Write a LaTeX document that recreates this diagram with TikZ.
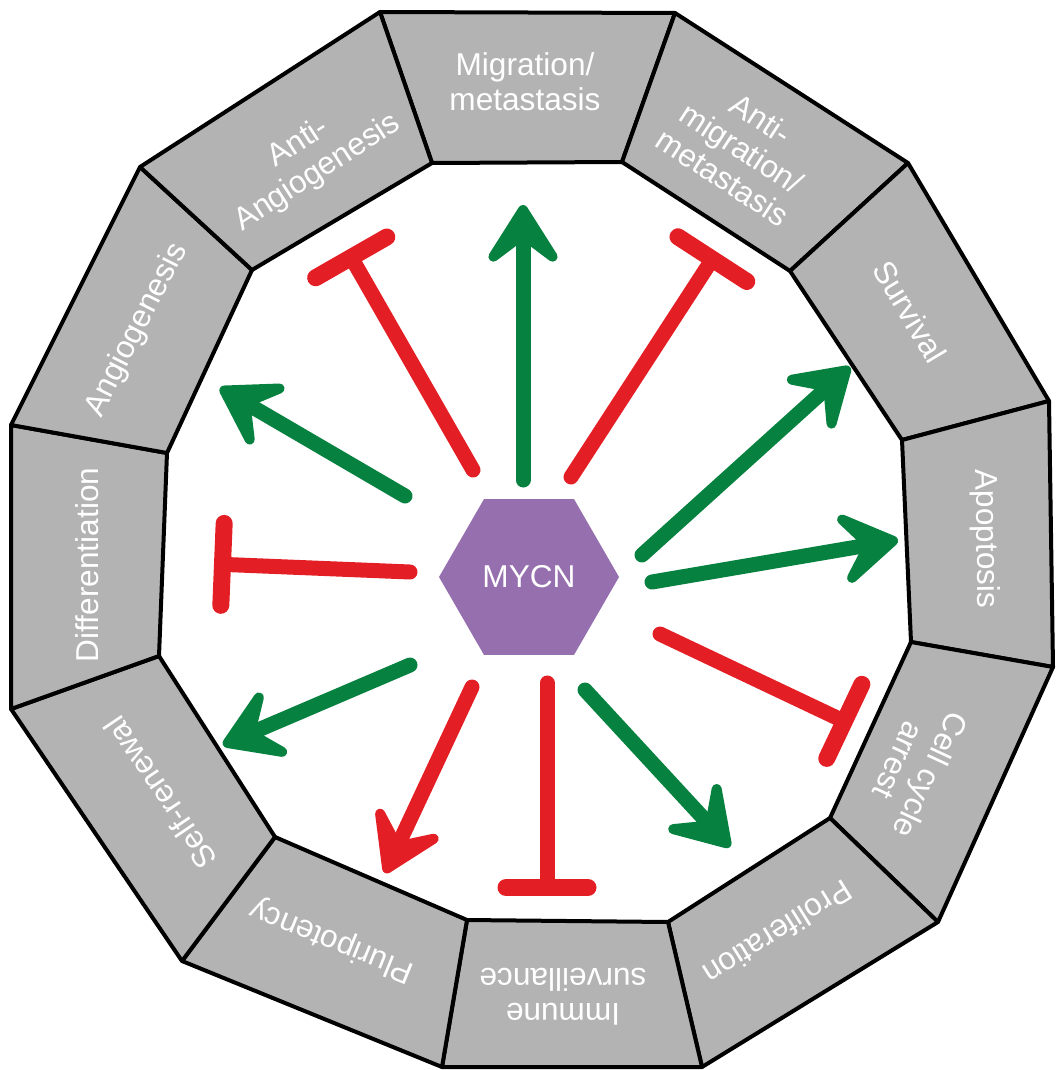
\documentclass[tikz,border=0pt]{standalone}
\usepackage{fontspec}
\setmainfont{Liberation Sans}
\usepackage{tikz}
\usetikzlibrary{arrows.meta, calc, shapes.geometric}

\definecolor{actgreen}{RGB}{7,129,64}
\definecolor{inhred}{RGB}{228,30,37}
\definecolor{mycnpurple}{RGB}{150,112,174}
\definecolor{seggray}{RGB}{179,179,179}

\begin{document}
\begin{tikzpicture}[
  x=0.5pt, y=-0.5pt,
  every node/.style={font=\fontsize{15.8}{17.5}\selectfont, text=white},
  seg/.style={draw=black, line width=2pt, fill=seggray, line join=round},
  lbl/.style={align=center, inner sep=0pt},
  hub/.style={regular polygon, regular polygon sides=6, fill=mycnpurple, minimum size=90pt, inner sep=0pt},
  act/.style={draw=#1, line width=7.5pt, line cap=round, -{Stealth[length=38pt, width=48pt, inset=18pt, round, line width=6pt]}},
  act/.default=actgreen,
  inh/.style={draw=inhred, line width=7.5pt, line cap=round, -{Bar[width=41pt, line width=8.5pt, round]}}
]
  \useasboundingbox (0,0) rectangle (1056,1070);

  \foreach \k/\ox/\oy/\ix/\iy in {1/380/12/432/163, 2/675/13/622/162, 3/908/163/790/271,
      4/1049/401/902/440, 5/1053/667/911/642, 6/938/922/830/818, 7/702/1067/668/922,
      8/442/1067/467/920, 9/182/961/275/837, 10/11/709/159/656, 11/11/425/167/453, 12/140/167/252/270}
    {\coordinate (O\k) at (\ox,\oy); \coordinate (I\k) at (\ix,\iy);}

  \foreach \k [evaluate=\k as \n using {int(mod(\k,12)+1)}] in {1,...,12}
    \draw[seg] (O\k) -- (O\n) -- (I\n) -- (I\k) -- cycle;

  \node[lbl] (migr) at (525,82) {Migration/\\metastasis};
  \node[lbl, rotate=-33] (antimigr) at (742,148) {Anti-\\migration/\\metastasis};
  \node[lbl, rotate=-59] (surv) at (910,312) {Survival};
  \node[lbl, rotate=-89] (apop) at (985,539) {Apoptosis};
  \node[lbl, rotate=-115] (arrest) at (915,768) {Cell cycle\\arrest};
  \node[lbl, rotate=-148] (prolif) at (778,933) {Proliferation};
  \node[lbl, rotate=180] (immune) at (563,997) {Immune\\surveillance};
  \node[lbl, rotate=158] (pluri) at (332,940) {Pluripotency};
  \node[lbl, rotate=124] (renew) at (160,793) {Self-renewal};
  \node[lbl, rotate=90] (diff) at (87,565) {Differentiation};
  \node[lbl, rotate=63] (angio) at (137,330) {Angiogenesis};
  \node[lbl, rotate=33] (antiangio) at (308,158) {Anti-\\Angiogenesis};

  \node[hub] (M) at (529,577) {MYCN};

  \foreach \k/\sx/\sy/\ex/\ey in {1/523/480/523/205, 2/571/477/717/252, 3/642/555/850/367,
      4/652/582/898/540, 5/660/634/852/725, 6/585/690/730/847, 7/547/683/547/896,
      8/472/687/385/873, 9/410/665/223/745, 10/410/572/214/564, 11/405/496/220/388, 12/473/470/347/250}
    {\coordinate (s\k) at (\sx,\sy); \coordinate (e\k) at (\ex,\ey);}

  \draw[act] (s1) -- (e1);
  \draw[inh] (s2) -- (e2);
  \draw[act] (s3) -- (e3);
  \draw[act] (s4) -- (e4);
  \draw[inh] (s5) -- (e5);
  \draw[act] (s6) -- (e6);
  \draw[inh] (s7) -- (e7);
  \draw[act=inhred] (s8) -- (e8);
  \draw[act] (s9) -- (e9);
  \draw[inh] (s10) -- (e10);
  \draw[act] (s11) -- (e11);
  \draw[inh] (s12) -- (e12);
\end{tikzpicture}
\end{document}
